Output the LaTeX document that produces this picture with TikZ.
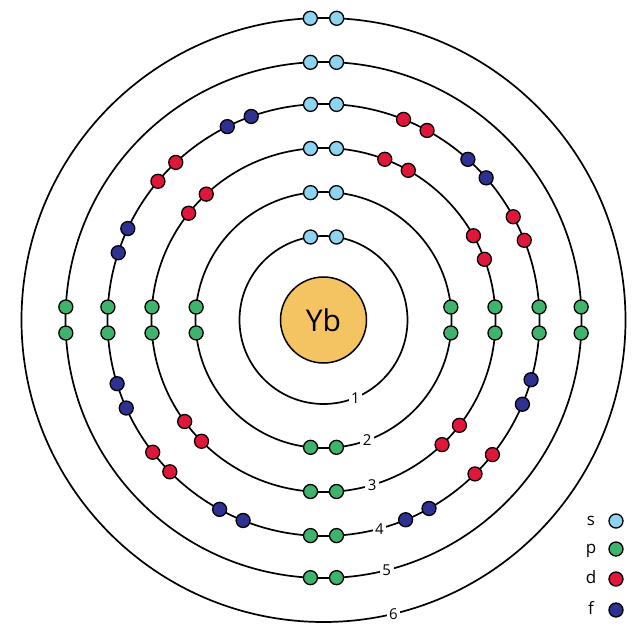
\documentclass[tikz,border=0pt]{standalone}
\usepackage{fontspec}
\setmainfont{Open Sans}
\definecolor{sC}{HTML}{8ED4F0}
\definecolor{pC}{HTML}{3DB36B}
\definecolor{dC}{HTML}{E0163A}
\definecolor{fC}{HTML}{2E3192}
\definecolor{nucC}{HTML}{F5C462}
\tikzset{
 el/.style={circle,draw=black,line width=1.3pt,minimum size=14pt,inner sep=0pt},
 shell/.style={draw=black,line width=1.7pt},
 lab/.style={fill=white,inner sep=2.5pt,font=\fontsize{15}{15}\selectfont},
}
\newcommand\epair[4]{% radius, angle, halfgap(deg), colour
 \node[el,fill=#4] at ({#2+#3}:#1pt) {};
 \node[el,fill=#4] at ({#2-#3}:#1pt) {};}
\begin{document}
\begin{tikzpicture}[x=1pt,y=1pt]
\useasboundingbox (-323.5,-322) rectangle (317.5,320);
\coordinate (c) at (0,0);
\foreach \r/\n/\a in {84/1/-67.7,128/2/-70,172/3/-73.6,216/4/-75,258/5/-75.8,302/6/-76.6}{
 \draw[shell] (c) circle (\r);
 \node[lab] (l\n) at (\a:\r pt) {\n};
}
\node[circle,draw=black,line width=1.5pt,fill=nucC,minimum size=86pt,inner sep=0pt,font=\fontsize{30}{30}\selectfont] (nuc) at (c) {Yb};
% shell 1
\epair{84}{90}{8.9}{sC}
% shell 2
\epair{128}{90}{5.8}{sC}
\foreach \a in {0,180,270}{\epair{128}{\a}{5.8}{pC}}
% shell 3
\epair{172}{90}{4.33}{sC}
\foreach \a in {0,180,270}{\epair{172}{\a}{4.33}{pC}}
\foreach \a in {137.3,64.8,25,-42.1,220.5}{\epair{172}{\a}{4.33}{dC}}
% shell 4
\epair{216}{90}{3.45}{sC}
\foreach \a in {0,180,270}{\epair{216}{\a}{3.45}{pC}}
\foreach \a in {136.6,64.8,25.1,-42,221.2}{\epair{216}{\a}{3.45}{dC}}
\foreach \a in {113,158.4,44.6,-19.5,-64.2,244.7,200.6}{\epair{216}{\a}{3.45}{fC}}
% shell 5
\epair{258}{90}{2.9}{sC}
\foreach \a in {0,180,270}{\epair{258}{\a}{2.9}{pC}}
% shell 6
\epair{302}{90}{2.5}{sC}
% legend
\foreach \t/\col/\y in {s/sC/-201,p/pC/-229,d/dC/-259,f/fC/-290}{
 \node[font=\fontsize{17}{17}\selectfont,anchor=base] (lg\t) at (267.5,\y-4) {\t};
 \node[el,fill=\col] (lc\t) at (292.5,\y) {};
}
\end{tikzpicture}
\end{document}
